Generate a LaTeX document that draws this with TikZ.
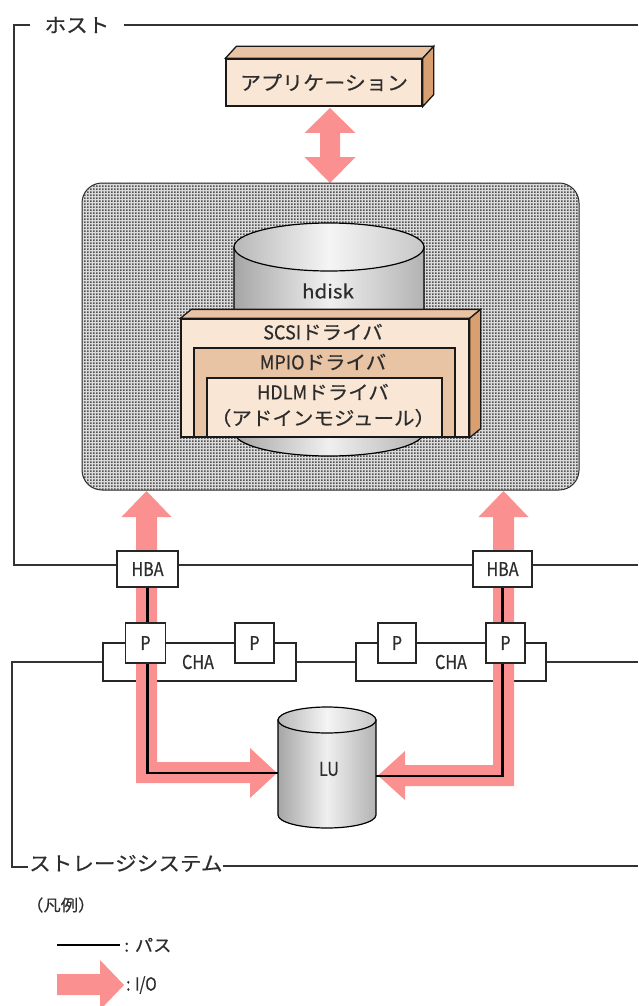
\documentclass[tikz,border=0pt]{standalone}
\usepackage{fontspec}
\setmainfont{Noto Sans CJK JP}
\newfontfamily\jp[FakeStretch=1.08,FakeBold=0.5]{Noto Sans CJK JP}
\newfontfamily\lat[FakeStretch=0.85,FakeBold=0.5]{Noto Sans CJK JP}
\newfontfamily\latn[FakeStretch=0.95,FakeBold=0.5]{Noto Sans CJK JP}
\usetikzlibrary{patterns,calc}
\pgfdeclarepatternformonly{mydots}{\pgfqpoint{0pt}{0pt}}{\pgfqpoint{3pt}{3pt}}{\pgfqpoint{3pt}{3pt}}{\pgfpathrectangle{\pgfqpoint{0pt}{0pt}}{\pgfqpoint{2pt}{2pt}}\pgfusepath{fill}}
\definecolor{pfront}{RGB}{249,230,213}
\definecolor{ptop}{RGB}{232,196,164}
\definecolor{pside}{RGB}{216,160,112}
\definecolor{io}{RGB}{250,144,144}
\definecolor{txt}{RGB}{45,45,45}
\begin{document}
\begin{tikzpicture}[x=1pt,y=-1pt,
  frame/.style={draw=black!80, line width=1.3pt},
  box/.style={draw=black!85, line width=1.4pt, fill=white, inner sep=0pt},
  solid3d/.style={draw=black!90, line width=1.3pt, inner sep=0pt},
  pathline/.style={line width=2.4pt, black},
  iofill/.style={fill=io},
  jptext/.style={font=\jp\fontsize{20}{23}\selectfont, text=txt, inner sep=1pt},
  drvtext/.style={font=\jp\fontsize{19}{22}\selectfont, text=txt, inner sep=0pt},
  lattext/.style={font=\lat\fontsize{19}{22}\selectfont, text=txt},
  cylbody/.style={draw=black, line width=1.2pt, left color=black!35, right color=black!30, middle color=black!6},
  cyltop/.style={draw=black, line width=1.2pt, left color=black!28, right color=black!22, middle color=black!4}
]
\useasboundingbox (0,0) rectangle (638,1006);

% ---------- host frame ----------
\node[jptext] (hostlbl) at (77,25) {ホスト};
\draw[frame] (30,25) -- (14,25) -- (14,565) -- (638,565);
\draw[frame] (124,25) -- (638,25);

% ---------- application box ----------
\node[solid3d, fill=pfront, minimum width=196pt, minimum height=47pt,
      font=\jp\fontsize{19.5}{22}\selectfont, text=txt] (app) at (324,82.5) {アプリケーション};
\path[solid3d, fill=ptop] (app.north west) -- ++(11,-12) -- ($(app.north east)+(11,-12)$) -- (app.north east) -- cycle;
\path[solid3d, fill=pside] (app.north east) -- ++(11,-12) -- ($(app.south east)+(11,-12)$) -- (app.south east) -- cycle;

% ---------- double arrow ----------
\fill[iofill] (330,108) -- (355.5,133) -- (340,133) -- (340,157) -- (355.5,157) -- (330,183)
   -- (304.5,157) -- (320,157) -- (320,133) -- (304.5,133) -- cycle;

% ---------- driver area ----------
\node[draw=black!85, line width=1pt, rounded corners=20pt, minimum width=497pt, minimum height=307pt,
      fill=black!14, postaction={pattern=mydots, pattern color=black!68}] (drv) at (330.5,336.5) {};

% hdisk cylinder
\path[cylbody] (234,247) -- (234,432) arc[start angle=180, end angle=360, x radius=95pt, y radius=24pt] -- (424,247) -- cycle;
\path[cyltop] (329,247) ellipse[x radius=95pt, y radius=24pt];
\node[font=\jp\fontsize{19}{22}\selectfont, text=txt] (hdisk) at (328,291) {hdisk};

% SCSI / MPIO / HDLM
\node[solid3d, fill=pfront, minimum width=288pt, minimum height=118pt] (scsi) at (325,378) {};
\path[solid3d, fill=ptop] (scsi.north west) -- ++(11,-9) -- ($(scsi.north east)+(11,-9)$) -- (scsi.north east) -- cycle;
\path[solid3d, fill=pside] (scsi.north east) -- ++(11,-9) -- ($(scsi.south east)+(11,-9)$) -- (scsi.south east) -- cycle;
\node[solid3d, fill=ptop, minimum width=261pt, minimum height=89pt] (mpio) at (324.5,392.5) {};
\node[solid3d, fill=pfront, minimum width=235pt, minimum height=59pt] (hdlm) at (324.5,407.5) {};
\node[drvtext] (tscsi) at (323,332) {{\latn\fontsize{19}{20}\selectfont SCSI}ドライバ};
\node[drvtext] (tmpio) at (323,362) {{\latn\fontsize{19}{20}\selectfont MPIO}ドライバ};
\node[drvtext] (thdlm) at (323,392) {{\latn\fontsize{19}{20}\selectfont HDLM}ドライバ};
\node[drvtext] (tadd) at (323,418) {（アドインモジュール）};

% ---------- storage frame & CHA ----------
\node[box, minimum width=193pt, minimum height=38pt, lattext] (cha1) at (199.5,662) {};
\node[box, minimum width=190pt, minimum height=38pt, lattext] (cha2) at (451,662) {};
\node[lattext] (tcha1) at (198,662) {CHA};
\node[lattext] (tcha2) at (451,662) {CHA};
\draw[frame] (cha1.west) -- (12,662) -- (12,867) -- (28,867);
\draw[frame] (cha1.east) -- (cha2.west);
\draw[frame] (cha2.east) -- (638,662);
\node[jptext, anchor=south west, inner sep=0pt] (stor) at (29,872) {ストレージシステム};
\draw[frame] (stor.east |- 0,866) -- (638,866);

% ---------- LU ----------
\path[cylbody] (278,720) -- (278,815) arc[start angle=180, end angle=360, x radius=49pt, y radius=13pt] -- (376,720) -- cycle;
\path[cyltop] (327,720) ellipse[x radius=49pt, y radius=13pt];
\node[lattext] (lu) at (329,769) {LU};
\coordinate (luw) at (278,773);
\coordinate (lue) at (376,776);

% ---------- I/O arrows ----------
\fill[iofill] (146.5,491) -- (171.5,517) -- (157,517) -- (157,762) -- (250,762) -- (250,748) -- (277,773)
   -- (250,798) -- (250,783) -- (136,783) -- (136,517) -- (121.5,517) -- cycle;
\fill[iofill] (503.5,491) -- (528.5,517) -- (514,517) -- (514,786) -- (405,786) -- (405,800) -- (378,775.5)
   -- (405,751) -- (405,765) -- (493,765) -- (493,517) -- (478.5,517) -- cycle;

% ---------- HBA and P ----------
\node[box, minimum width=61pt, minimum height=36pt, lattext] (hba1) at (147.5,569) {HBA};
\node[box, minimum width=59pt, minimum height=36pt, lattext] (hba2) at (502.5,569) {HBA};

% path lines
\draw[pathline] (hba1.south) -- (hba1.south |- luw) -- (luw);
\draw[pathline] (hba2.south) -- (hba2.south |- lue) -- (lue);

\node[box, minimum width=40pt, minimum height=40pt, lattext] (p1) at (145.5,643) {P};
\node[box, minimum width=39pt, minimum height=40pt, lattext] (p2) at (254.5,643) {P};
\node[box, minimum width=38pt, minimum height=40pt, lattext] (p3) at (397,643) {P};
\node[box, minimum width=39pt, minimum height=40pt, lattext] (p4) at (505.5,643) {P};

% ---------- legend ----------
\node[font=\jp\fontsize{16}{19}\selectfont, text=txt, anchor=west, inner sep=0pt] (leg) at (26,905) {（凡例）};
\coordinate (lga) at (57,945);
\coordinate (lgb) at (120,945);
\draw[pathline] (lga) -- (lgb);
\node[font=\jp\fontsize{17}{20}\selectfont, text=txt, anchor=west, inner sep=0pt] (legpath) at (124,945) {: パス};
\fill[iofill] (57,974) -- (100,974) -- (100,960) -- (124,985) -- (100,1010) -- (100,995) -- (57,995) -- cycle;
\node[font=\lat\fontsize{18}{20}\selectfont, text=txt, anchor=west, inner sep=0pt] (legio) at (126,985) {: I/O};
\end{tikzpicture}
\end{document}
